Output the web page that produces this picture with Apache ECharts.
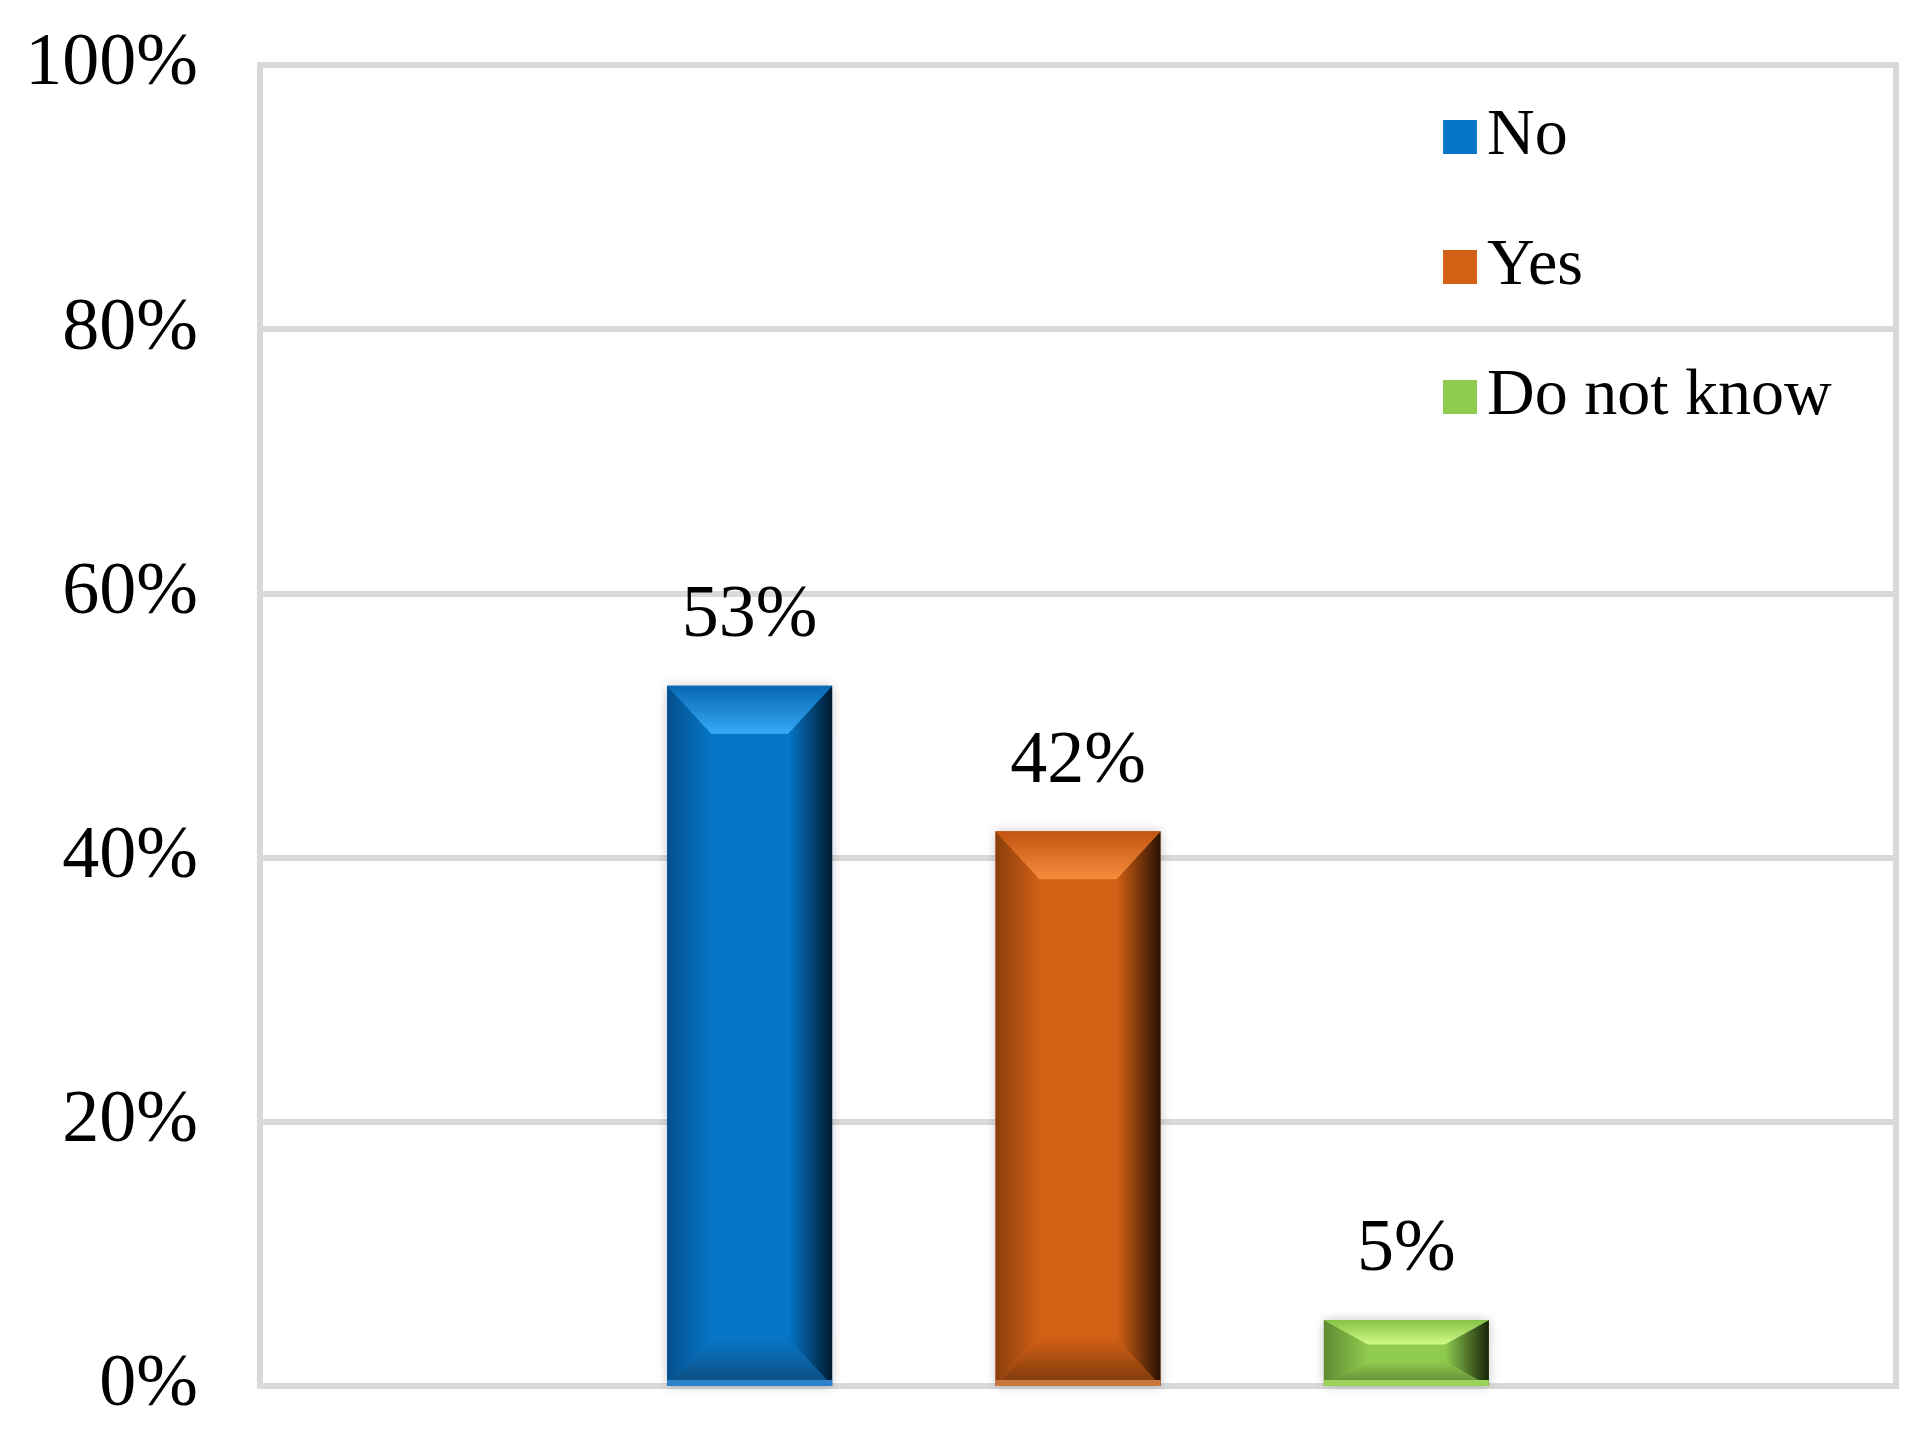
<!DOCTYPE html>
<html>
<head>
<meta charset="utf-8">
<script src="https://cdn.jsdelivr.net/npm/echarts@6/dist/echarts.min.js"></script>
<style>html,body{margin:0;padding:0;background:#fff}#c{width:1924px;height:1435px}</style>
</head>
<body>
<div id="c"></div>
<script>
var categories = [''];
var seriesNames = ['No', 'Yes', 'Do not know'];
var noValues = [53];
var yesValues = [42];
var dkValues = [5];
var yTicks = [0, 20, 40, 60, 80, 100];

var FONT = '"Liberation Serif", "Times New Roman", serif';
var BAR_W = 165;
var GAP = 0.99;

var face = ['#0676c8', '#d26015', '#8fcb4f'];
var bevel = [
  {top0: '#0868b4', top1: '#36aaf6', bot0: '#0f4674', bot1: '#2c82c8', left: '#044f8c', right: '#011a30'},
  {top0: '#c25410', top1: '#f78d3e', bot0: '#6e330c', bot1: '#c8773e', left: '#8a3e0d', right: '#2a1203'},
  {top0: '#86c246', top1: '#d2fa86', bot0: '#55782f', bot1: '#9bd25c', left: '#5f8a30', right: '#18250a'}
];
var dataSets = [noValues, yesValues, dkValues];

var series = seriesNames.map(function (n, i) {
  return {
    name: n,
    type: 'bar',
    data: dataSets[i],
    barWidth: BAR_W,
    barGap: (GAP * 100) + '%',
    itemStyle: {
      color: face[i],
      shadowBlur: 10,
      shadowColor: 'rgba(0,0,0,0.22)'
    },
    label: {
      show: true,
      position: 'top',
      distance: 32,
      formatter: '{c}%',
      fontFamily: FONT,
      fontSize: 74,
      color: '#000'
    }
  };
});

var bevelData = [];
dataSets.forEach(function (arr, i) { arr.forEach(function (v, c) { bevelData.push([c, v, i]); }); });

function lg(x0, y0, x1, y1, a, b) {
  return new echarts.graphic.LinearGradient(x0, y0, x1, y1, [{offset: 0, color: a}, {offset: 1, color: b}]);
}

series.push({
  type: 'custom',
  silent: true,
  z: 3,
  data: bevelData,
  encode: {x: 0, y: 1},
  renderItem: function (params, api) {
    var c = api.value(0), v = api.value(1), s = api.value(2);
    var top = api.coord([c, v]);
    var base = api.coord([c, 0]);
    var cx = top[0] + (s - 1) * BAR_W * (1 + GAP);
    var x0 = cx - BAR_W / 2, x1 = cx + BAR_W / 2;
    var yT = top[1], yB = base[1];
    var h = yB - yT;
    var b = Math.min(48, h * 0.37);
    var bs = Math.min(b, BAR_W * 0.33);
    var side = Math.min(44, BAR_W * 0.27);
    var col = bevel[s];
    return {
      type: 'group',
      children: [
        {type: 'polygon', shape: {points: [[x0, yT], [x0 + side, yT + b], [x0 + side, yB - bs], [x0, yB]]},
          style: {fill: lg(0, 0, 1, 0, col.left, face[s])}},
        {type: 'polygon', shape: {points: [[x1, yT], [x1 - side, yT + b], [x1 - side, yB - bs], [x1, yB]]},
          style: {fill: lg(0, 0, 1, 0, face[s], col.right)}},
        {type: 'polygon', shape: {points: [[x0, yT], [x1, yT], [x1 - side, yT + b], [x0 + side, yT + b]]},
          style: {fill: lg(0, 0, 0, 1, col.top0, col.top1)}},
        {type: 'polygon', shape: {points: [[x0 + side, yB - bs], [x1 - side, yB - bs], [x1, yB], [x0, yB]]},
          style: {fill: lg(0, 0, 0, 1, face[s], col.bot0), opacity: 0.9}},
        {type: 'rect', shape: {x: x0, y: yB - 6, width: BAR_W, height: 6},
          style: {fill: col.bot1}}
      ]
    };
  }
});

var chart = echarts.init(document.getElementById('c'), null, {renderer: 'canvas'});
chart.setOption({
  backgroundColor: '#fff',
  animation: false,
  color: face,
  grid: {
    left: 260, right: 28, top: 65, bottom: 49,
    show: true, borderColor: '#d9d9d9', borderWidth: 6, backgroundColor: 'transparent'
  },
  legend: {
    orient: 'vertical',
    left: 1438, top: 98,
    itemWidth: 34, itemHeight: 34, itemGap: 62,
    icon: 'rect',
    data: seriesNames.map(function (n, i) { return {name: n, itemStyle: {color: face[i]}}; }),
    textStyle: {fontFamily: FONT, fontSize: 66, lineHeight: 68, color: '#000', padding: [0, 0, 0, 5]}
  },
  xAxis: {
    type: 'category',
    data: categories,
    axisLine: {show: false},
    axisTick: {show: false},
    axisLabel: {show: false}
  },
  yAxis: {
    type: 'value',
    min: yTicks[0], max: yTicks[yTicks.length - 1], interval: 20,
    axisLine: {show: false},
    axisTick: {show: false},
    splitLine: {lineStyle: {color: '#d9d9d9', width: 6}},
    axisLabel: {formatter: '{value}%', fontFamily: FONT, fontSize: 74, color: '#000', margin: 62}
  },
  series: series
});
</script>
</body>
</html>
